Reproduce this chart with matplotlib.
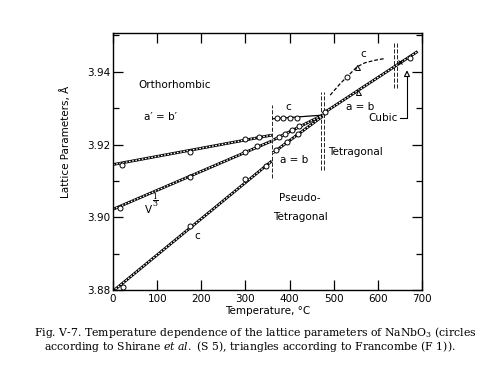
import numpy as np
import matplotlib
matplotlib.use("Agg")
import matplotlib.pyplot as plt
from matplotlib.ticker import MultipleLocator

plt.rcParams["font.family"] = "DejaVu Sans"
plt.rcParams["mathtext.fontset"] = "dejavuserif"

# ── data ─────────────────────────────────────────────────────────────────────

# orthorhombic region, 0-360 °C (straight fitted lines + measured points)
ORTHO_T = [0, 360]
A_ORTHO_L = [3.9145, 3.9226]
V_ORTHO_L = [3.9022, 3.9210]
C_ORTHO_L = [3.8797, 3.9155]

A_ORTHO_PT_T = [20, 175, 300, 330]
A_ORTHO_PT_L = [3.9144, 3.9180, 3.9214, 3.9221]
V_ORTHO_PT_T = [16, 175, 299, 326]
V_ORTHO_PT_L = [3.9025, 3.9111, 3.9180, 3.9196]
C_ORTHO_PT_T = [23, 175, 299, 347]
C_ORTHO_PT_L = [3.8809, 3.8976, 3.9104, 3.9141]

# pseudo-tetragonal region, 360-475 °C
PT_T = [362, 475]
C_PT_L = [3.9271, 3.9281]
V_PT_L = [3.9212, 3.9281]
A_PT_L = [3.9177, 3.9278]

C_PT_PT_T = [371, 386, 401, 416]
C_PT_PT_L = [3.9272, 3.9272, 3.9273, 3.9273]
V_PT_PT_T = [375, 390, 405, 422]
V_PT_PT_L = [3.9220, 3.9230, 3.9239, 3.9250]
A_PT_PT_T = [369, 395, 418]
A_PT_PT_L = [3.9185, 3.9208, 3.9229]

# tetragonal + cubic a = b line
AB_T = [475, 690]
AB_L = [3.9285, 3.9456]
AB_CIRC_T = [481, 673]
AB_CIRC_L = [3.9290, 3.9437]
AB_TRI_T = [556]
AB_TRI_L = [3.9345]
AB_X_T = [650]
AB_X_L = [3.9427]

# tetragonal c (dashed curve)
C_TET_T = [492, 515, 534, 553, 571, 594, 617]
C_TET_L = [3.9336, 3.9368, 3.9391, 3.9414, 3.9425, 3.9432, 3.9437]
C_TET_CIRC_T = [530]
C_TET_CIRC_L = [3.9386]
C_TET_TRI_T = [553]
C_TET_TRI_L = [3.9414]

# phase boundaries: temperature, lower / upper extent, drawn double?
BOUND_T = [360, 475, 640]
BOUND_LO = [3.9108, 3.9130, 3.9355]
BOUND_HI = [3.9309, 3.9345, 3.9478]
BOUND_DOUBLE = [False, True, True]


def hatched(ax, x, y):
    """Ladder-looking line like the hand-drawn original."""
    ax.plot(x, y, color="black", lw=2.0, solid_capstyle="butt", zorder=2)
    ax.plot(x, y, color="white", lw=0.9, ls=(0, (1.3, 1.3)), zorder=2.1)


def pts(ax, x, y, marker="o"):
    ax.plot(x, y, marker, ms=3.6, mfc="white", mec="black", mew=0.7,
            ls="none", zorder=4)


fig = plt.figure(figsize=(4.96, 3.89), dpi=100)
fig.patch.set_facecolor("white")
ax = fig.add_axes([113 / 496, 1 - 290 / 389, 309 / 496, 256.7 / 389])

# ── lines ────────────────────────────────────────────────────────────────────
for L in (A_ORTHO_L, V_ORTHO_L, C_ORTHO_L):
    hatched(ax, ORTHO_T, L)
for L in (V_PT_L, A_PT_L):
    hatched(ax, PT_T, L)
ax.plot(PT_T, C_PT_L, color="black", lw=0.9, zorder=2)
hatched(ax, AB_T, AB_L)
ax.plot(C_TET_T, C_TET_L, color="black", lw=0.9, ls=(0, (3, 1.6)), zorder=2)

pts(ax, A_ORTHO_PT_T, A_ORTHO_PT_L)
pts(ax, V_ORTHO_PT_T, V_ORTHO_PT_L)
pts(ax, C_ORTHO_PT_T, C_ORTHO_PT_L)
pts(ax, C_PT_PT_T, C_PT_PT_L)
pts(ax, V_PT_PT_T, V_PT_PT_L)
pts(ax, A_PT_PT_T, A_PT_PT_L)
pts(ax, AB_CIRC_T, AB_CIRC_L)
pts(ax, AB_TRI_T, AB_TRI_L, marker="^")
pts(ax, C_TET_CIRC_T, C_TET_CIRC_L)
pts(ax, C_TET_TRI_T, C_TET_TRI_L, marker="^")
ax.plot(AB_X_T, AB_X_L, "x", ms=3.5, mew=0.8, color="black", zorder=4)

# phase boundaries
for t, lo, hi, dbl in zip(BOUND_T, BOUND_LO, BOUND_HI, BOUND_DOUBLE):
    offs = (-3.5, 3.5) if dbl else (0,)
    for o in offs:
        ax.plot([t + o, t + o], [lo, hi], color="black", lw=0.6,
                ls=(0, (5, 2)), zorder=1)

# ── labels ───────────────────────────────────────────────────────────────────
kw = dict(fontsize=7.5, ha="center", va="center")
ax.text(140, 3.9364, "Orthorhombic", **kw)
ax.text(107, 3.9276, "a\u2032 = b\u2032", **kw)
ax.text(81, 3.9020, "V", **kw)
ax.text(97, 3.9046, r"$\dfrac{1}{3}$", fontsize=5.5, ha="center",
        va="center")
ax.text(191, 3.8948, "c", **kw)
ax.text(396, 3.9302, "c", **kw)
ax.text(411, 3.9157, "a = b", **kw)
ax.text(488, 3.9180, "Tetragonal", fontsize=7.5, ha="left", va="center")
ax.text(560, 3.9304, "a = b", **kw)
ax.text(568, 3.9448, "c", **kw)
ax.text(424, 3.9053, "Pseudo-", **kw)
ax.text(424, 3.9002, "Tetragonal", **kw)
ax.text(612, 3.9272, "Cubic", **kw)
ax.plot([650, 666, 666], [3.9272, 3.9272, 3.9390], color="black", lw=0.8)
ax.annotate("", xy=(666, 3.9412), xytext=(666, 3.9385),
            arrowprops=dict(arrowstyle="-|>", fc="white", ec="black",
                            lw=0.8, mutation_scale=9))

# ── axes ─────────────────────────────────────────────────────────────────────
ax.set_xlim(0, 700)
ax.set_ylim(3.88, 3.9506)
ax.set_xticks(range(0, 800, 100))
ax.set_yticks([3.88, 3.90, 3.92, 3.94])
ax.set_yticklabels(["3.88", "3.90", "3.92", "3.94"])
ax.yaxis.set_minor_locator(MultipleLocator(0.01))
ax.tick_params(which="both", direction="in", top=True, right=True,
               labelsize=7.5, width=0.9)
ax.tick_params(which="major", length=7)
ax.tick_params(which="minor", length=4)
ax.tick_params(axis="x", pad=3)
ax.tick_params(axis="y", pad=2)
for s in ax.spines.values():
    s.set_linewidth(1.0)
ax.set_xlabel("Temperature, \u00b0C", fontsize=7.5, labelpad=1)
fig.text(66 / 496, 1 - 142 / 389, "Lattice Parameters, \u00c5", rotation=90,
         fontsize=7.5, ha="center", va="center")

# ── caption ──────────────────────────────────────────────────────────────────
cap = dict(family="DejaVu Serif", fontsize=7.8, ha="center", va="center")
fig.text(255 / 496, 1 - 332 / 389,
         "Fig. V-7. Temperature dependence of the lattice parameters of "
         "NaNbO$_3$ (circles", **cap)
fig.text(250 / 496, 1 - 346 / 389,
         r"according to Shirane $\mathit{et\ al.}$ (S 5), triangles according "
         "to Francombe (F 1)).", **cap)

fig.savefig("out.png", dpi=100, facecolor="white")
